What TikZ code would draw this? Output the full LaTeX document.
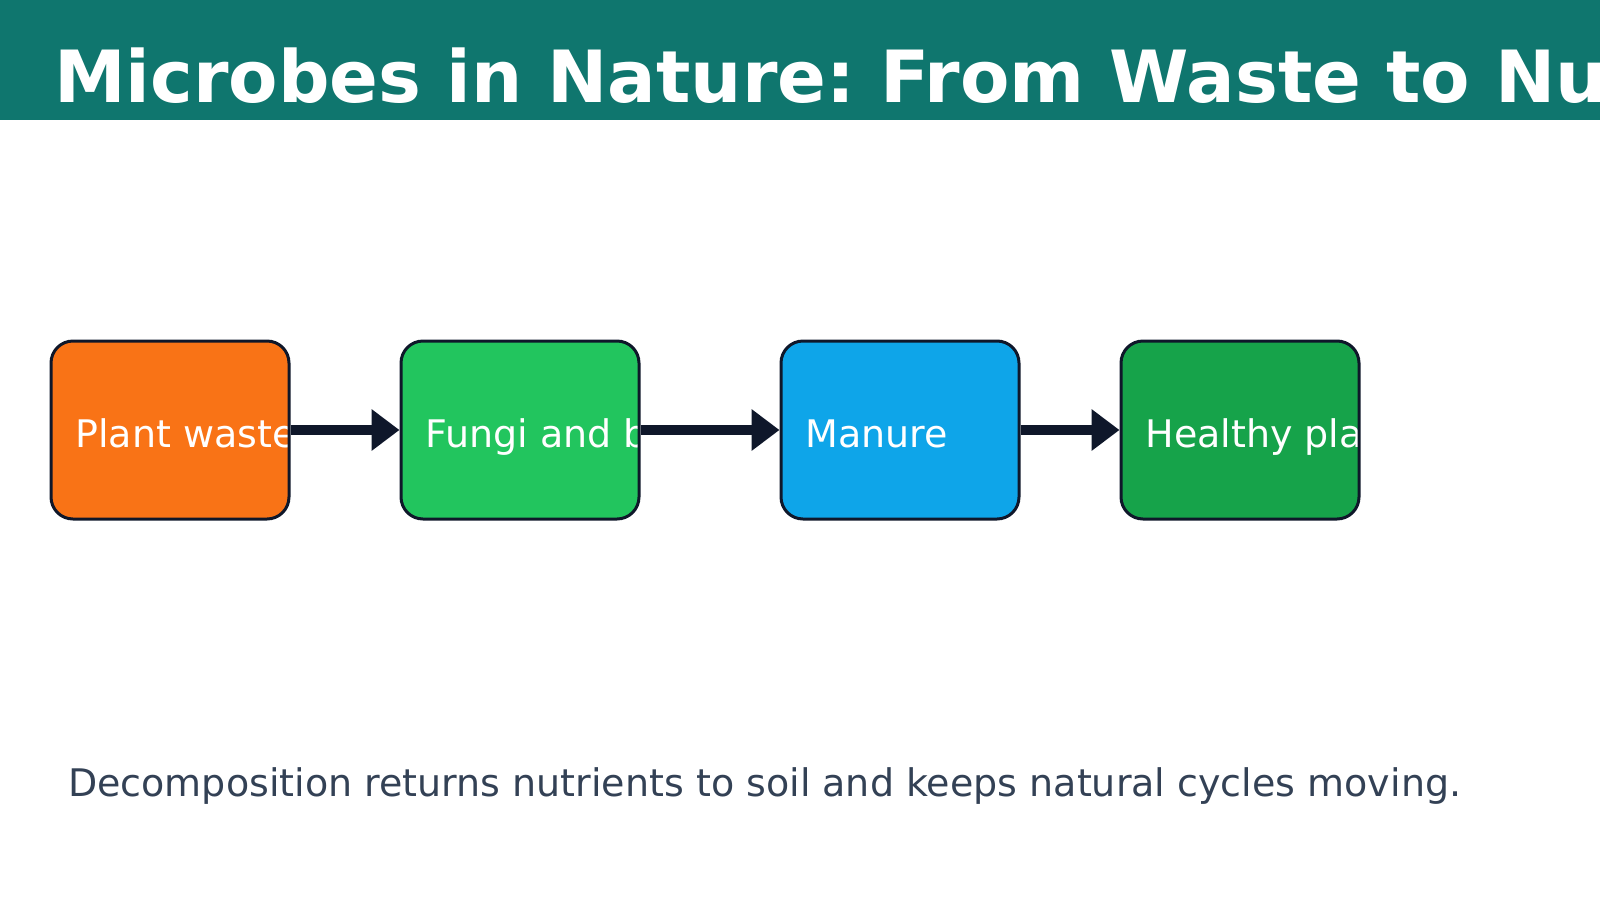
\documentclass[tikz,border=0pt]{standalone}
\usepackage{fontspec}
\setmainfont{DejaVu Sans}
\usepackage{xcolor}
\usepackage{tikz}
\usetikzlibrary{arrows.meta,positioning}
\frenchspacing

\definecolor{titleteal}{HTML}{0F766E}
\definecolor{ink}{HTML}{0F172A}
\definecolor{notegray}{HTML}{334155}
\definecolor{wasteorange}{HTML}{F97316}
\definecolor{microbegreen}{HTML}{22C55E}
\definecolor{manureblue}{HTML}{0EA5E9}
\definecolor{plantgreen}{HTML}{16A34A}

\tikzset{
    stage/.style={draw=ink, line width=3pt, rounded corners=22pt, minimum width=238pt, minimum height=178pt,
        path picture={\node[anchor=base west, draw=none, fill=none, inner sep=0pt, minimum size=0pt, text=white, font=\fontsize{38}{46}\selectfont]
            at ([xshift=23pt, yshift=-17pt]path picture bounding box.west) {#1};}},
    flow/.style={draw=ink, line width=10pt, -{Triangle[length=28pt, width=40pt]}}
}

\begin{document}
\begin{tikzpicture}[x=1pt, y=-1pt]
        \useasboundingbox (0,0) rectangle (1600,900);
        \clip (0,0) rectangle (1600,900);

        \fill[titleteal] (0,0) rectangle (1600,120);
        \node[anchor=base west, inner sep=0pt, text=white, font=\fontsize{72}{86}\selectfont\bfseries] (title) at (54,102) {Microbes in Nature: From Waste to Nutrients};

        \node[stage={Plant waste}, fill=wasteorange] (waste) at (170,430) {};
        \node[stage={Fungi and bacteria}, fill=microbegreen] (microbes) at (520,430) {};
        \node[stage={Manure}, fill=manureblue] (manure) at (900,430) {};
        \node[stage={Healthy plants}, fill=plantgreen] (plants) at (1240,430) {};

        \draw[flow] (waste) -- (microbes);
        \draw[flow] (microbes) -- (manure);
        \draw[flow] (manure) -- (plants);

        \node[anchor=base west, inner sep=0pt, text=notegray, font=\fontsize{38}{46}\selectfont] (note) at (68,796) {Decomposition returns nutrients to soil and keeps natural cycles moving.};
    \end{tikzpicture}
\end{document}
